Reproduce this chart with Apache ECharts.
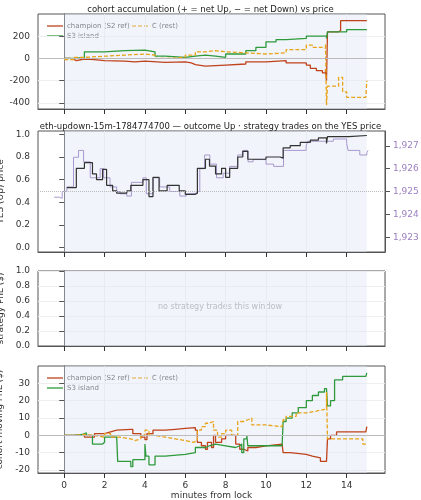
<!DOCTYPE html><html><head><meta charset="utf-8"><script src="https://cdn.jsdelivr.net/npm/echarts@6/dist/echarts.min.js"></script>
<style>body{margin:0}#c{width:421px;height:500px}</style></head><body><div id="c"></div><script>
// panel 1: accumulation (shares)
const accChampT=[0,0.3,0.5,0.6,1,1.5,2,3,3.5,4,5,6,6.3,6.5,7,8,9,10,11,12,12.2,12.5,12.8,12.95,13.0,13.05,13.6,13.7,15];
const accChampV=[0,-10,-20,-5,-10,-20,-25,-30,-25,-35,-30,-40,-55,-70,-60,-50,-30,-20,-40,-60,-90,-110,-130,-100,-200,240,250,340,340];
const accS3T=[0,0.5,1,2,3,4,4.5,5,6,6.5,7,7.5,8,9,9.5,10,10.5,11,12,13,13.05,14,15];
const accS3V=[0,10,60,70,75,60,20,10,20,30,20,10,40,70,100,150,170,180,200,180,240,260,260];
const accCT=[0,0.5,1,2,3,4,4.5,5,6,6.5,7,7.5,8,9,10,11,12,12.3,12.8,12.95,13,13.05,13.5,13.6,13.8,14,14.95,15];
const accCV=[-10,10,20,30,40,30,0,10,30,60,70,60,50,40,50,80,120,100,90,130,-420,-250,-250,-170,-300,-350,-350,-200];
// panel 2: YES price and ETH/USD
const yesT=[0.13,0.6,1,1.4,1.6,1.9,2.1,2.4,2.6,3.1,3.3,3.9,4.2,4.4,4.7,5.1,5.7,6.0,6.5,6.6,7.0,7.2,7.5,7.8,8.0,8.2,8.6,8.85,9.1,10,10.7,10.85,11.2,11.7,12.2,12.6,13.0,13.05,14.1,15];
const yesV=[0.53,0.7,0.75,0.65,0.6,0.69,0.55,0.5,0.48,0.5,0.55,0.6,0.45,0.62,0.5,0.55,0.5,0.47,0.48,0.7,0.78,0.72,0.65,0.7,0.62,0.7,0.8,0.85,0.78,0.8,0.79,0.88,0.9,0.93,0.95,0.97,0.92,0.98,0.99,0.995];
const ethT=[-0.5,-0.25,-0.1,0.13,0.46,0.71,0.96,1.29,1.78,1.95,2.27,2.6,2.77,3.1,3.33,3.9,4.07,4.4,4.73,5.23,5.73,6.05,6.54,6.72,6.96,7.22,7.55,7.88,8.2,8.6,8.85,9.11,9.36,10.0,10.38,10.87,11.99,12.07,13.18,13.34,14.0,14.07,14.65,15.0,15.06];
const ethV=[1924.75,1924.7,1925,1925.2,1926.5,1926.8,1926.3,1925.6,1926.0,1925.6,1925.2,1925.0,1924.9,1924.8,1925.4,1925.6,1924.9,1925.6,1925.2,1925.0,1924.8,1924.9,1925.0,1926.0,1926.6,1926.2,1925.6,1925.8,1926.1,1926.6,1926.8,1926.3,1926.4,1926.2,1926.1,1926.8,1927.0,1927.2,1927.2,1927.3,1927.1,1926.8,1926.6,1926.7,1926.8];
// panel 4: moving PnL ($)
const pnlChampT=[0,0.5,1,1.5,2,2.3,2.6,3.3,3.4,3.8,4,4.1,4.4,5,5.5,6,6.5,6.6,6.8,7,7.1,7.3,7.4,7.5,7.8,8,8.5,8.7,8.9,9.1,9.5,10,10.8,10.85,11.2,12,12.3,12.7,13,13.05,13.2,13.5,14.95,15];
const pnlChampV=[0,0.5,-1,1,2,3,3.5,3.5,1,-1,-2.5,1,3,3.5,4,4.5,3,-4,-6,-8,-4,-7,0,-4,-2,0,-5,-8,-9,-7,-6,-5,-6,-10,-11,-12,-13,-15,-15,-2,0,2,2,5];
const pnlS3T=[0,0.5,0.9,1.1,1.4,1.9,2,2.6,2.65,3.2,3.3,3.4,3.9,4.0,4.05,4.2,4.5,5,6,6.5,7,7.2,7.5,8,8.5,8.7,8.8,8.9,9.05,9.1,9.5,10,10.8,10.85,11,11.3,11.6,12,12.3,12.6,12.9,13,13.05,13.2,13.4,13.8,14.95,15];
const pnlS3V=[0,0.5,1.5,0,-5,-4,-1,-1,-15,-15,-18,-14,-14,-5,-12,-17,-12,-11,-10,-7,-6,-5,-6,-7,-6,-5,-10,-2,0,-6,-6,-6,-6,8,10,13,16,20,23,25,27,28,17,20,32,34,34,36];
const pnlCT=[0,0.5,1,1.5,2,2.3,2.7,3.3,3.5,3.8,4.0,4.2,4.5,5,5.5,6,6.4,6.6,6.8,7,7.2,7.4,7.6,7.8,8,8.3,8.6,8.9,9.1,9.3,10,10.8,10.85,11,11.5,12,12.5,12.9,13,13.05,13.5,14.5,14.8,15];
const pnlCV=[0,0.5,0,-1,1,-1,-2,-3,-2,0,3,0,-1,-2,-3,-4,-3,3,5,7,8,3,-1,1,3,0,8,9,10,6,5,6,9,11,13,14,15,16,25,-2,-2,-2,-5,-5];
const xTicks=[0,2,4,6,8,10,12,14];

const zip=(t,v)=>t.map((x,i)=>[x,v[i]]);
const C1='#c0421b',C2='#2e9a3c',C3='#e8a317';
const F='DejaVu Sans';
const gb={left:38,right:36,outerBoundsMode:'none',containLabel:false,show:true,borderColor:'#555',borderWidth:1};
const grids=[{...gb,top:14,height:95},{...gb,top:131,height:121},{...gb,top:271,height:75},{...gb,top:366,height:107}];
const ax={color:'#333',fontSize:9,fontFamily:F};
const xAxis=grids.map((g,i)=>({type:'value',gridIndex:i,min:-1.3,max:15.9,interval:2,
 axisLabel:{show:i===3,...ax,customValues:xTicks},axisTick:{show:true,customValues:xTicks,lineStyle:{color:'#333'}},
 splitLine:{show:true,lineStyle:{color:'#eee'}},axisLine:{show:true,onZero:false,lineStyle:{color:'#555'}},
 name:i===3?'minutes from lock':'',nameLocation:'middle',nameGap:16,nameTextStyle:{fontSize:9,fontFamily:F,color:'#333'}}));
const yb=(gi,name,o)=>Object.assign({type:'value',gridIndex:gi,name,nameLocation:'middle',nameGap:24,
 nameTextStyle:{fontSize:9,fontFamily:F,color:'#333'},axisLabel:ax,axisLine:{show:true,lineStyle:{color:'#555'}},
 axisTick:{show:true},splitLine:{lineStyle:{color:'#eee'}}},o);
const yAxis=[
 yb(0,'acc. net YES (shares)',{min:-455,max:400,interval:200,axisLabel:{...ax,customValues:[-400,-200,0,200]},axisTick:{show:true,customValues:[-400,-200,0,200]}}),
 yb(1,'YES (Up) price',{min:-0.04,max:1.03,axisLabel:{...ax,customValues:[0,0.2,0.4,0.6,0.8,1.0],formatter:v=>v.toFixed(1)},axisTick:{show:true,customValues:[0,0.2,0.4,0.6,0.8,1.0]},splitLine:{show:false}}),
 yb(2,'strategy PnL ($)',{min:0,max:1,interval:0.2,axisLabel:{...ax,formatter:v=>v.toFixed(1)}}),
 yb(3,'cohort moving PnL ($)',{min:-21.7,max:40,axisLabel:{...ax,customValues:[-20,-10,0,10,20,30]},axisTick:{show:true,customValues:[-20,-10,0,10,20,30]}}),
 yb(1,'ETH/USD (strike dotted = YES 0.5)',{position:'right',min:1922.35,max:1927.65,nameGap:28,nameTextStyle:{fontSize:8,fontFamily:F,color:'#9b7fc0'},axisLabel:{...ax,color:'#9b7fc0',customValues:[1923,1924,1925,1926,1927]},axisTick:{show:true,customValues:[1923,1924,1925,1926,1927]},splitLine:{show:false}})
];
const shade=(y0,y1)=>({silent:true,itemStyle:{color:'rgba(225,230,245,0.45)'},data:[[{coord:[0,y0]},{coord:[15,y1]}]]});
const zl=(y,type)=>({silent:true,symbol:'none',label:{show:false},lineStyle:{color:'#bbb',type:type||'solid',width:1},data:[{yAxis:y}]});
const ln=(name,data,xi,yi,color,dash,extra)=>Object.assign({name,type:'line',step:'end',xAxisIndex:xi,yAxisIndex:yi,data,showSymbol:false,symbol:'none',
 lineStyle:{color,width:1.3,type:dash?[4,2]:'solid'},itemStyle:{color}},extra||{});
const series=[
 ln('champion (S2 ref)',zip(accChampT,accChampV),0,0,C1,false,{markArea:shade(-455,400),markLine:zl(0)}),
 ln('S3 island',zip(accS3T,accS3V),0,0,C2),
 ln('C (rest)',zip(accCT,accCV),0,0,C3,true),
 ln('eth',zip(ethT,ethV),1,4,'#a898cf',false,{lineStyle:{color:'#a898cf',width:1}}),
 ln('yes',zip(yesT,yesV),1,1,'#333',false,{markArea:shade(-0.04,1.03),markLine:zl(0.5,'dotted'),lineStyle:{color:'#333',width:1.2}}),
 {type:'line',xAxisIndex:2,yAxisIndex:2,data:[],markArea:shade(0,1)},
 ln('champion (S2 ref)',zip(pnlChampT,pnlChampV),3,3,C1,false,{markArea:shade(-21.7,40),markLine:zl(0)}),
 ln('S3 island',zip(pnlS3T,pnlS3V),3,3,C2),
 ln('C (rest)',zip(pnlCT,pnlCV),3,3,C3,true)
];
const legG=(top)=>({type:'group',left:44,top,z:100,children:[
   {type:'rect',shape:{x:-3,y:-3,width:120,height:24},style:{fill:'rgba(255,255,255,0.8)'}},
   {type:'line',shape:{x1:0,y1:4,x2:16,y2:4},style:{stroke:C1,lineWidth:1.3}},
   {type:'text',x:20,y:4,style:{text:'champion (S2 ref)',fontSize:7,fontFamily:F,fill:'#333',verticalAlign:'middle'}},
   {type:'line',shape:{x1:85,y1:4,x2:101,y2:4},style:{stroke:C3,lineWidth:1.3,lineDash:[4,2]}},
   {type:'text',x:105,y:4,style:{text:'C (rest)',fontSize:7,fontFamily:F,fill:'#333',verticalAlign:'middle'}},
   {type:'line',shape:{x1:0,y1:14,x2:16,y2:14},style:{stroke:C2,lineWidth:1.3}},
   {type:'text',x:20,y:14,style:{text:'S3 island',fontSize:7,fontFamily:F,fill:'#333',verticalAlign:'middle'}}]});
const ch=echarts.init(document.getElementById('c'));
ch.setOption({animation:false,grid:grids,xAxis,yAxis,series,
 title:[{text:'cohort accumulation (+ = net Up, − = net Down) vs price',left:'center',top:0,textStyle:{fontSize:8.5,fontWeight:'normal',fontFamily:F,color:'#222'}},
  {text:'eth-updown-15m-1784774700 — outcome Up · strategy trades on the YES price',left:'center',top:117,textStyle:{fontSize:8.5,fontWeight:'normal',fontFamily:F,color:'#222'}}],
 graphic:[{type:'text',left:158,top:303,style:{text:'no strategy trades this window',fontSize:8,fontFamily:F,fill:'#999'}},
  legG(19),legG(371)]
});
</script></body></html>
